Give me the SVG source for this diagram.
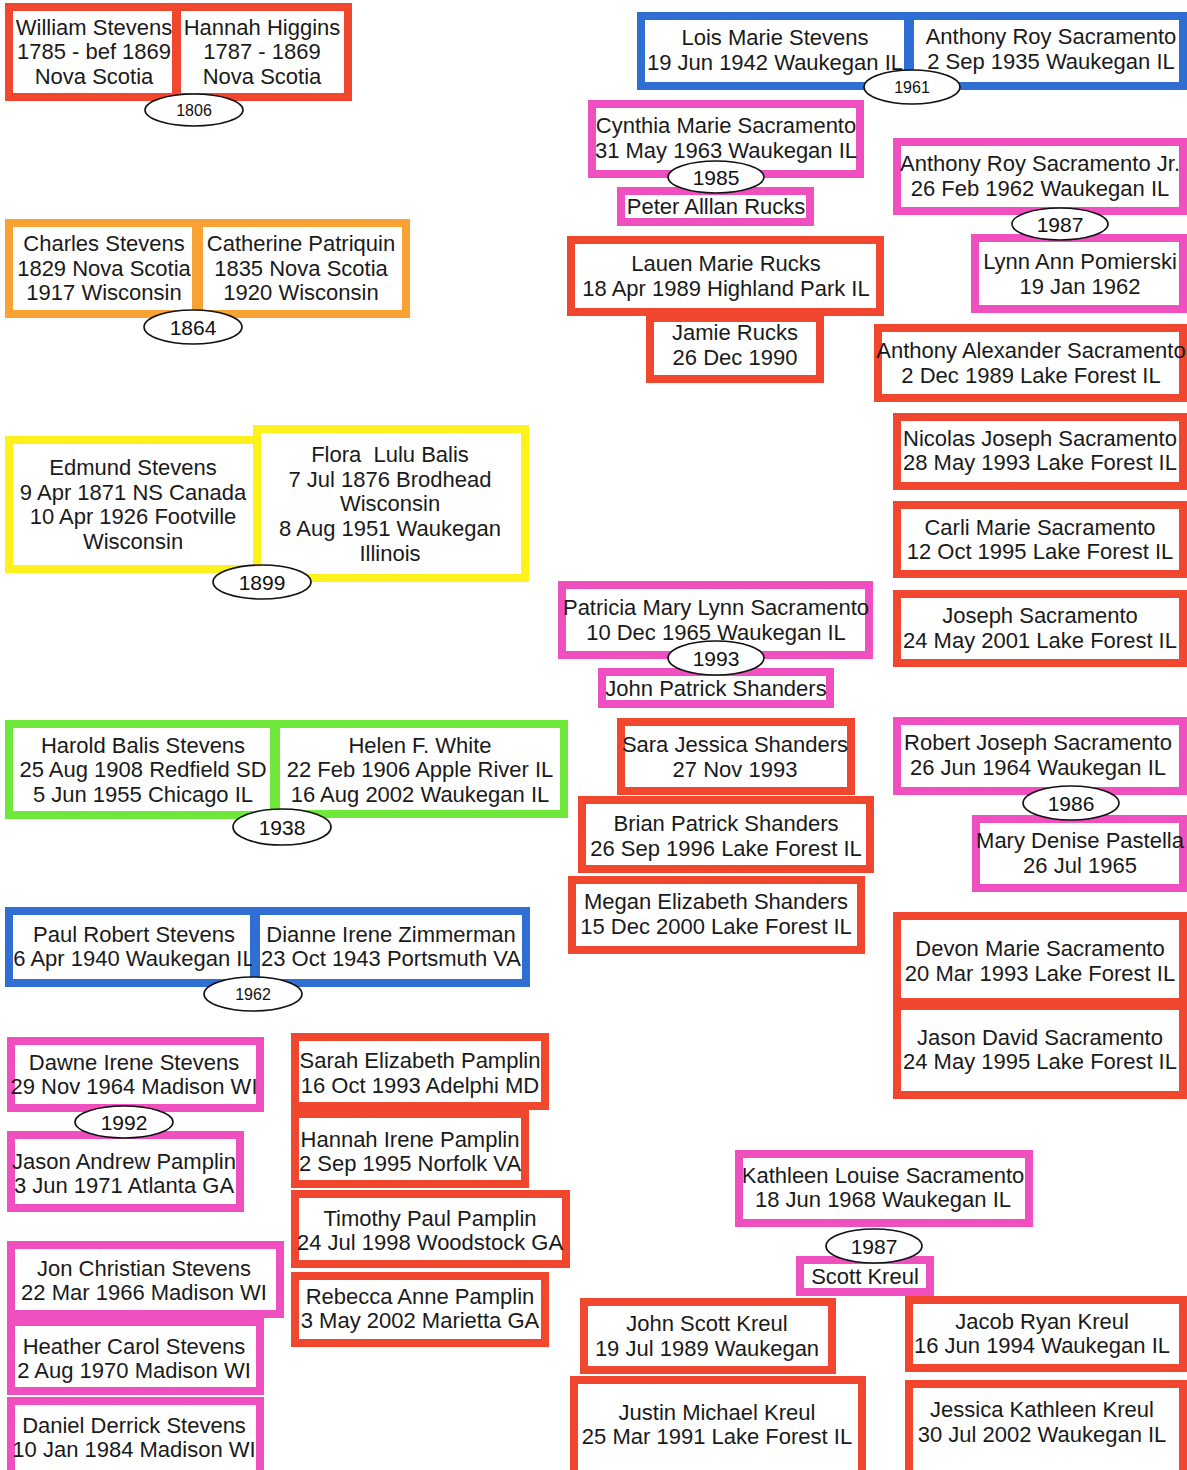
<svg xmlns="http://www.w3.org/2000/svg" width="1187" height="1470" viewBox="0 0 1187 1470">
<style>
.box{fill:#fff;stroke-width:8}
.red{stroke:#f2472f}
.pink{stroke:#f04fbf}
.orange{stroke:#f7a232}
.yellow{stroke:#fff21c}
.green{stroke:#6ee83a}
.blue{stroke:#2f6fd4}
.t{font-family:"Liberation Sans",Arial,sans-serif;font-size:22px;fill:#1a1a1a;text-anchor:middle}
.m ellipse{fill:#fff;stroke:#111;stroke-width:1.6}
.m text{font-family:"Liberation Sans",Arial,sans-serif;fill:#111;text-anchor:middle}
.big{font-size:21px}
.sm{font-size:16px}
</style>
<rect width="1187" height="1470" fill="#fff"/>
<g id="nodes">
<g id="william"><rect class="box red" x="9" y="7" width="167" height="90"/><text class="t"><tspan x="94" y="34.5">William Stevens</tspan><tspan x="94" y="58.5">1785 - bef 1869</tspan><tspan x="94" y="83.5">Nova Scotia</tspan></text></g>
<g id="hannah-higgins"><rect class="box red" x="177" y="7" width="171" height="90"/><text class="t"><tspan x="262" y="34.5">Hannah Higgins</tspan><tspan x="262" y="58.5">1787 - 1869</tspan><tspan x="262" y="83.5">Nova Scotia</tspan></text></g>
<g id="lois"><rect class="box blue" x="641" y="16" width="267" height="70"/><text class="t"><tspan x="775" y="44.5">Lois Marie Stevens</tspan><tspan x="775" y="69.5">19 Jun 1942 Waukegan IL</tspan></text></g>
<g id="anthony-roy"><rect class="box blue" x="910" y="16" width="273" height="70"/><text class="t"><tspan x="1051" y="43.5">Anthony Roy Sacramento</tspan><tspan x="1051" y="68.5">2 Sep 1935 Waukegan IL</tspan></text></g>
<g id="cynthia"><rect class="box pink" x="592" y="104" width="268" height="70"/><text class="t"><tspan x="726" y="132.5">Cynthia Marie Sacramento</tspan><tspan x="726" y="157.5">31 May 1963 Waukegan IL</tspan></text></g>
<g id="peter"><rect class="box pink" x="621" y="191" width="189" height="31"/><text class="t"><tspan x="716" y="213.5">Peter Alllan Rucks</tspan></text></g>
<g id="lauen"><rect class="box red" x="571" y="240" width="309" height="72"/><text class="t"><tspan x="726" y="270.5">Lauen Marie Rucks</tspan><tspan x="726" y="295.5">18 Apr 1989 Highland Park IL</tspan></text></g>
<g id="jamie"><rect class="box red" x="650" y="318" width="170" height="61"/><text class="t"><tspan x="735" y="339.5">Jamie Rucks</tspan><tspan x="735" y="364.5">26 Dec 1990</tspan></text></g>
<g id="anthony-jr"><rect class="box pink" x="897" y="142" width="286" height="69"/><text class="t"><tspan x="1040" y="170.5">Anthony Roy Sacramento Jr.</tspan><tspan x="1040" y="195.5">26 Feb 1962 Waukegan IL</tspan></text></g>
<g id="lynn"><rect class="box pink" x="975" y="238" width="208" height="71"/><text class="t"><tspan x="1080" y="268.5">Lynn Ann Pomierski</tspan><tspan x="1080" y="293.5">19 Jan 1962</tspan></text></g>
<g id="anthony-alexander"><rect class="box red" x="878" y="328" width="305" height="70"/><text class="t"><tspan x="1031" y="357.5">Anthony Alexander Sacramento</tspan><tspan x="1031" y="382.5">2 Dec 1989 Lake Forest IL</tspan></text></g>
<g id="nicolas"><rect class="box red" x="897" y="417" width="286" height="69"/><text class="t"><tspan x="1040" y="445.5">Nicolas Joseph Sacramento</tspan><tspan x="1040" y="469.5">28 May 1993 Lake Forest IL</tspan></text></g>
<g id="carli"><rect class="box red" x="897" y="505" width="286" height="69"/><text class="t"><tspan x="1040" y="534.5">Carli Marie Sacramento</tspan><tspan x="1040" y="558.5">12 Oct 1995 Lake Forest IL</tspan></text></g>
<g id="joseph"><rect class="box red" x="897" y="594" width="286" height="69"/><text class="t"><tspan x="1040" y="622.5">Joseph Sacramento</tspan><tspan x="1040" y="647.5">24 May 2001 Lake Forest IL</tspan></text></g>
<g id="charles"><rect class="box orange" x="9" y="223" width="187" height="91"/><text class="t"><tspan x="104" y="250.5">Charles Stevens</tspan><tspan x="104" y="275.5">1829 Nova Scotia</tspan><tspan x="104" y="299.5">1917 Wisconsin</tspan></text></g>
<g id="catherine"><rect class="box orange" x="199" y="223" width="207" height="91"/><text class="t"><tspan x="301" y="250.5">Catherine Patriquin</tspan><tspan x="301" y="275.5">1835 Nova Scotia</tspan><tspan x="301" y="299.5">1920 Wisconsin</tspan></text></g>
<g id="edmund"><rect class="box yellow" x="9" y="440" width="249" height="129"/><text class="t"><tspan x="133" y="474.5">Edmund Stevens</tspan><tspan x="133" y="499.5">9 Apr 1871 NS Canada</tspan><tspan x="133" y="523.5">10 Apr 1926 Footville</tspan><tspan x="133" y="548.5">Wisconsin</tspan></text></g>
<g id="flora"><rect class="box yellow" x="257" y="429" width="268" height="149"/><text class="t" xml:space="preserve"><tspan x="390" y="461.5">Flora  Lulu Balis</tspan><tspan x="390" y="486.5">7 Jul 1876 Brodhead</tspan><tspan x="390" y="510.5">Wisconsin</tspan><tspan x="390" y="535.5">8 Aug 1951 Waukegan</tspan><tspan x="390" y="560.5">Illinois</tspan></text></g>
<g id="patricia"><rect class="box pink" x="562" y="585" width="307" height="70"/><text class="t"><tspan x="716" y="614.5">Patricia Mary Lynn Sacramento</tspan><tspan x="716" y="639.5">10 Dec 1965 Waukegan IL</tspan></text></g>
<g id="john-patrick"><rect class="box pink" x="602" y="672" width="228" height="32"/><text class="t"><tspan x="716" y="695.5">John Patrick Shanders</tspan></text></g>
<g id="sara"><rect class="box red" x="621" y="722" width="230" height="69"/><text class="t"><tspan x="735" y="751.5">Sara Jessica Shanders</tspan><tspan x="735" y="776.5">27 Nov 1993</tspan></text></g>
<g id="brian"><rect class="box red" x="582" y="800" width="288" height="69"/><text class="t"><tspan x="726" y="830.5">Brian Patrick Shanders</tspan><tspan x="726" y="855.5">26 Sep 1996 Lake Forest IL</tspan></text></g>
<g id="megan"><rect class="box red" x="572" y="880" width="289" height="70"/><text class="t"><tspan x="716" y="908.5">Megan Elizabeth Shanders</tspan><tspan x="716" y="933.5">15 Dec 2000 Lake Forest IL</tspan></text></g>
<g id="harold"><rect class="box green" x="9" y="724" width="265" height="91"/><text class="t"><tspan x="143" y="752.5">Harold Balis Stevens</tspan><tspan x="143" y="776.5">25 Aug 1908 Redfield SD</tspan><tspan x="143" y="801.5">5 Jun 1955 Chicago IL</tspan></text></g>
<g id="helen"><rect class="box green" x="276" y="724" width="288" height="90"/><text class="t"><tspan x="420" y="752.5">Helen F. White</tspan><tspan x="420" y="776.5">22 Feb 1906 Apple River IL</tspan><tspan x="420" y="801.5">16 Aug 2002 Waukegan IL</tspan></text></g>
<g id="paul"><rect class="box blue" x="9" y="911" width="245" height="72"/><text class="t"><tspan x="134" y="941.5">Paul Robert Stevens</tspan><tspan x="134" y="965.5">6 Apr 1940 Waukegan IL</tspan></text></g>
<g id="dianne"><rect class="box blue" x="256" y="911" width="270" height="72"/><text class="t"><tspan x="391" y="941.5">Dianne Irene Zimmerman</tspan><tspan x="391" y="965.5">23 Oct 1943 Portsmuth VA</tspan></text></g>
<g id="robert"><rect class="box pink" x="897" y="721" width="286" height="70"/><text class="t"><tspan x="1038" y="749.5">Robert Joseph Sacramento</tspan><tspan x="1038" y="774.5">26 Jun 1964 Waukegan IL</tspan></text></g>
<g id="mary"><rect class="box pink" x="976" y="819" width="207" height="69"/><text class="t"><tspan x="1080" y="847.5">Mary Denise Pastella</tspan><tspan x="1080" y="872.5">26 Jul 1965</tspan></text></g>
<g id="devon"><rect class="box red" x="897" y="916" width="286" height="86"/><text class="t"><tspan x="1040" y="955.5">Devon Marie Sacramento</tspan><tspan x="1040" y="980.5">20 Mar 1993 Lake Forest IL</tspan></text></g>
<g id="jason-david"><rect class="box red" x="897" y="1006" width="286" height="89"/><text class="t"><tspan x="1040" y="1044.5">Jason David Sacramento</tspan><tspan x="1040" y="1068.5">24 May 1995 Lake Forest IL</tspan></text></g>
<g id="dawne"><rect class="box pink" x="11" y="1041" width="249" height="67"/><text class="t"><tspan x="134" y="1069.5">Dawne Irene Stevens</tspan><tspan x="134" y="1093.5">29 Nov 1964 Madison WI</tspan></text></g>
<g id="jason-andrew"><rect class="box pink" x="11" y="1135" width="229" height="73"/><text class="t"><tspan x="124" y="1168.5">Jason Andrew Pamplin</tspan><tspan x="124" y="1192.5">3 Jun 1971 Atlanta GA</tspan></text></g>
<g id="sarah"><rect class="box red" x="295" y="1037" width="250" height="69"/><text class="t"><tspan x="420" y="1067.5">Sarah Elizabeth Pamplin</tspan><tspan x="420" y="1092.5">16 Oct 1993 Adelphi MD</tspan></text></g>
<g id="hannah-irene"><rect class="box red" x="295" y="1114" width="230" height="70"/><text class="t"><tspan x="410" y="1146.5">Hannah Irene Pamplin</tspan><tspan x="410" y="1170.5">2 Sep 1995 Norfolk VA</tspan></text></g>
<g id="timothy"><rect class="box red" x="295" y="1194" width="271" height="70"/><text class="t"><tspan x="430" y="1225.5">Timothy Paul Pamplin</tspan><tspan x="430" y="1249.5">24 Jul 1998 Woodstock GA</tspan></text></g>
<g id="rebecca"><rect class="box red" x="295" y="1276" width="250" height="67"/><text class="t"><tspan x="420" y="1303.5">Rebecca Anne Pamplin</tspan><tspan x="420" y="1327.5">3 May 2002 Marietta GA</tspan></text></g>
<g id="jon"><rect class="box pink" x="11" y="1245" width="269" height="69"/><text class="t"><tspan x="144" y="1275.5">Jon Christian Stevens</tspan><tspan x="144" y="1299.5">22 Mar 1966 Madison WI</tspan></text></g>
<g id="heather"><rect class="box pink" x="11" y="1322" width="249" height="69"/><text class="t"><tspan x="134" y="1353.5">Heather Carol Stevens</tspan><tspan x="134" y="1377.5">2 Aug 1970 Madison WI</tspan></text></g>
<g id="daniel"><rect class="box pink" x="11" y="1401" width="249" height="75"/><text class="t"><tspan x="134" y="1432.5">Daniel Derrick Stevens</tspan><tspan x="134" y="1456.5">10 Jan 1984 Madison WI</tspan></text></g>
<g id="kathleen"><rect class="box pink" x="739" y="1154" width="290" height="69"/><text class="t"><tspan x="883" y="1182.5">Kathleen Louise Sacramento</tspan><tspan x="883" y="1206.5">18 Jun 1968 Waukegan IL</tspan></text></g>
<g id="scott"><rect class="box pink" x="800" y="1260" width="130" height="32"/><text class="t"><tspan x="865" y="1283.5">Scott Kreul</tspan></text></g>
<g id="john-scott"><rect class="box red" x="584" y="1302" width="248" height="68"/><text class="t"><tspan x="707" y="1330.5">John Scott Kreul</tspan><tspan x="707" y="1355.5">19 Jul 1989 Waukegan</tspan></text></g>
<g id="justin"><rect class="box red" x="574" y="1380" width="288" height="95"/><text class="t"><tspan x="717" y="1419.5">Justin Michael Kreul</tspan><tspan x="717" y="1443.5">25 Mar 1991 Lake Forest IL</tspan></text></g>
<g id="jacob"><rect class="box red" x="909" y="1300" width="274" height="68"/><text class="t"><tspan x="1042" y="1328.5">Jacob Ryan Kreul</tspan><tspan x="1042" y="1352.5">16 Jun 1994 Waukegan IL</tspan></text></g>
<g id="jessica"><rect class="box red" x="909" y="1384" width="274" height="90"/><text class="t"><tspan x="1042" y="1416.5">Jessica Kathleen Kreul</tspan><tspan x="1042" y="1441.5">30 Jul 2002 Waukegan IL</tspan></text></g>
</g>
<g id="connectors" class="m">
<g id="m1806"><ellipse cx="194" cy="110" rx="49" ry="16"/><text class="sm" x="194" y="115.5">1806</text></g>
<g id="m1961"><ellipse cx="912" cy="87" rx="48" ry="17"/><text class="sm" x="912" y="92.5">1961</text></g>
<g id="m1985"><ellipse cx="716" cy="177" rx="48" ry="16"/><text class="big" x="716" y="184.5">1985</text></g>
<g id="m1987a"><ellipse cx="1060" cy="224" rx="48" ry="16"/><text class="big" x="1060" y="231.5">1987</text></g>
<g id="m1864"><ellipse cx="193" cy="327" rx="49" ry="17"/><text class="big" x="193" y="334.5">1864</text></g>
<g id="m1899"><ellipse cx="262" cy="582" rx="49" ry="17"/><text class="big" x="262" y="589.5">1899</text></g>
<g id="m1993"><ellipse cx="716" cy="658" rx="48" ry="17"/><text class="big" x="716" y="665.5">1993</text></g>
<g id="m1938"><ellipse cx="282" cy="827" rx="49" ry="18"/><text class="big" x="282" y="834.5">1938</text></g>
<g id="m1962"><ellipse cx="253" cy="994" rx="49" ry="17"/><text class="sm" x="253" y="999.5">1962</text></g>
<g id="m1986"><ellipse cx="1071" cy="803" rx="48" ry="17"/><text class="big" x="1071" y="810.5">1986</text></g>
<g id="m1992"><ellipse cx="124" cy="1122" rx="49" ry="16"/><text class="big" x="124" y="1129.5">1992</text></g>
<g id="m1987b"><ellipse cx="874" cy="1246" rx="48" ry="17"/><text class="big" x="874" y="1253.5">1987</text></g>
</g>
</svg>
